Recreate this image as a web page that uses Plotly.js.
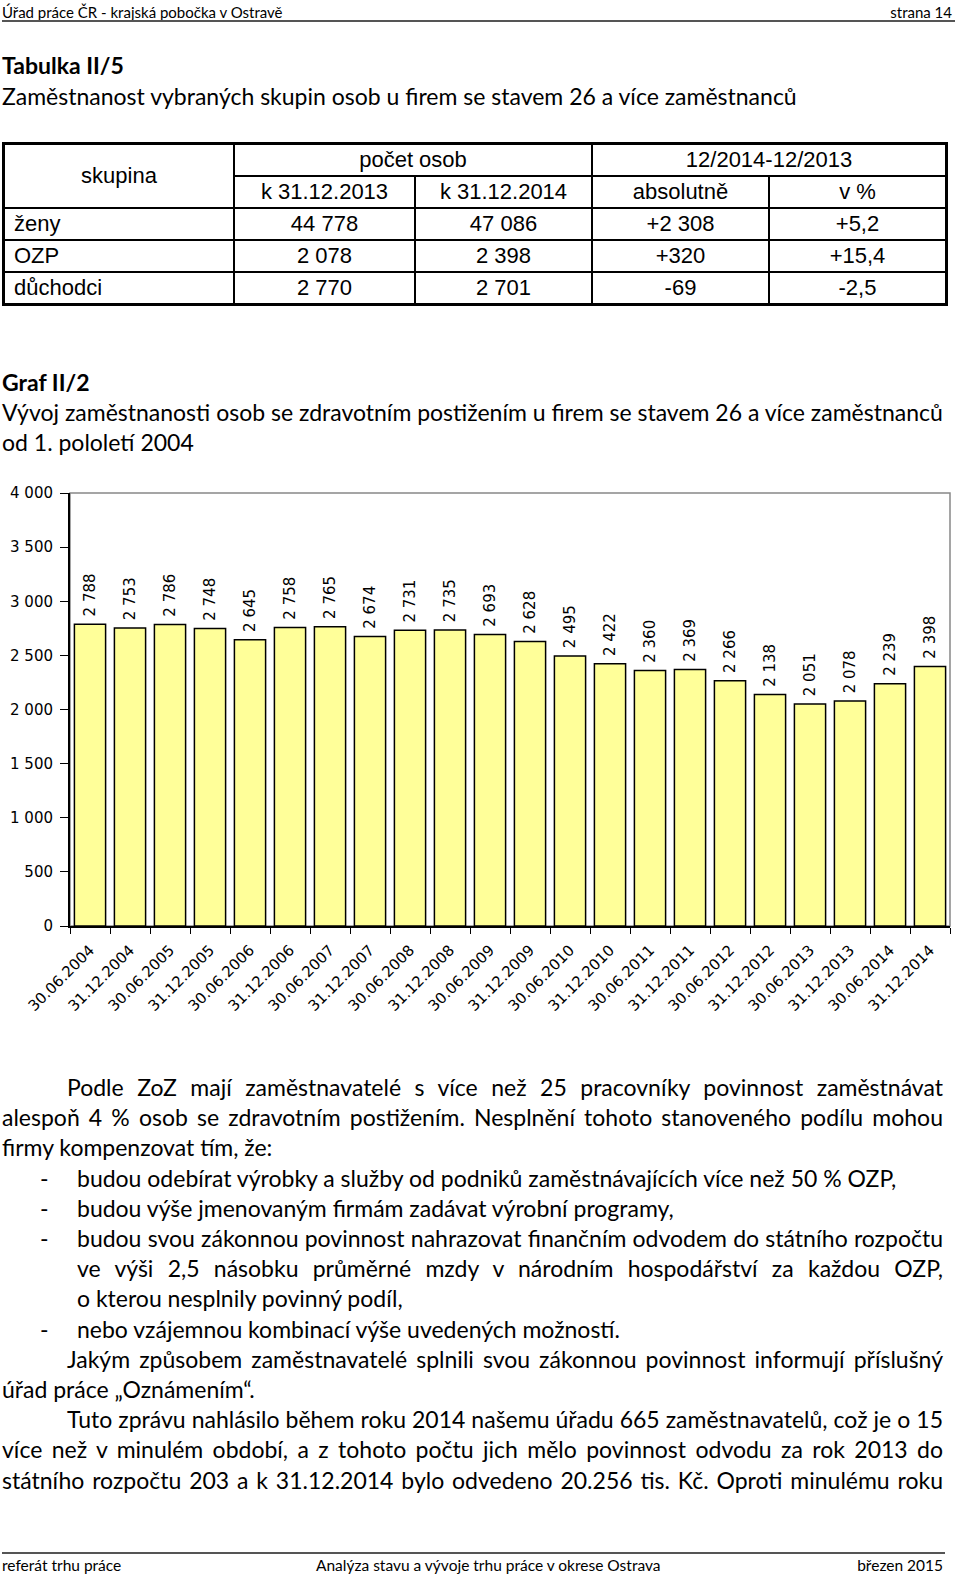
<!DOCTYPE html>
<html lang="cs">
<head>
<meta charset="utf-8">
<script src="https://cdn.plot.ly/plotly-3.0.1.min.js"></script>
<style>
  body { margin: 0; width: 960px; height: 1577px; position: relative; background: #fff;
         font-family: Lato, "Open Sans", sans-serif; color: #000; overflow: hidden; }
  .t { position: absolute; white-space: nowrap; }
  .hdr { font-size: 15px; top: 3px; }
  .rule { position: absolute; height: 0; border-top: 2px solid #555; }
  .h { font-size: 23px; left: 2px; }
  .ln { position: absolute; font-size: 23px; line-height: 30px; height: 30px; white-space: nowrap; }
  .j { text-align: justify; text-align-last: justify; }
  .dash { position: absolute; left: 40px; font-size: 23px; line-height: 30px; }
  table { position: absolute; left: 2px; top: 142px; border-collapse: collapse;
          font-family: "Liberation Sans", Arial, sans-serif; font-size: 22px; border: 3px solid #000; }
  td { border: 2px solid #000; height: 30px; padding: 0; text-align: center; }
  td.l { text-align: left; padding-left: 9px; }
  #chart { position: absolute; left: 0; top: 470px; width: 960px; height: 560px; }
  .ft { font-size: 15.5px; top: 1556px; }
</style>
</head>
<body>
<div class="t hdr" style="left:2px">Úřad práce ČR - krajská pobočka v Ostravě</div>
<div class="t hdr" style="right:8px">strana 14</div>
<div class="rule" style="left:2px;width:953px;top:20px"></div>

<div class="t h" style="top:51px;font-weight:bold">Tabulka II/5</div>
<div class="t h" style="top:82px">Zaměstnanost vybraných skupin osob u firem se stavem 26 a více zaměstnanců</div>

<table>
  <tr><td rowspan="2" style="width:228px">skupina</td><td colspan="2">počet osob</td><td colspan="2">12/2014-12/2013</td></tr>
  <tr><td style="width:179px">k 31.12.2013</td><td style="width:175px">k 31.12.2014</td><td style="width:175px">absolutně</td><td style="width:175px">v %</td></tr>
  <tr><td class="l">ženy</td><td>44 778</td><td>47 086</td><td>+2 308</td><td>+5,2</td></tr>
  <tr><td class="l">OZP</td><td>2 078</td><td>2 398</td><td>+320</td><td>+15,4</td></tr>
  <tr><td class="l">důchodci</td><td>2 770</td><td>2 701</td><td>-69</td><td>-2,5</td></tr>
</table>

<div class="t h" style="top:368px;font-weight:bold">Graf II/2</div>
<div class="t h" style="top:398px">Vývoj zaměstnanosti osob se zdravotním postižením u firem se stavem 26 a více zaměstnanců</div>
<div class="t h" style="top:428px">od 1. pololetí 2004</div>

<div id="chart"></div>

<div class="ln j" style="left:67px;width:876px;top:1072px">Podle ZoZ mají zaměstnavatelé s více než 25 pracovníky povinnost zaměstnávat</div>
<div class="ln j" style="left:2px;width:941px;top:1102px">alespoň 4 % osob se zdravotním postižením. Nesplnění tohoto stanoveného podílu mohou</div>
<div class="ln" style="left:2px;top:1132px">firmy kompenzovat tím, že:</div>
<div class="dash" style="top:1163px">-</div>
<div class="ln" style="left:77px;top:1163px">budou odebírat výrobky a služby od podniků zaměstnávajících více než 50 % OZP,</div>
<div class="dash" style="top:1193px">-</div>
<div class="ln" style="left:77px;top:1193px">budou výše jmenovaným firmám zadávat výrobní programy,</div>
<div class="dash" style="top:1223px">-</div>
<div class="ln j" style="left:77px;width:866px;top:1223px">budou svou zákonnou povinnost nahrazovat finančním odvodem do státního rozpočtu</div>
<div class="ln j" style="left:77px;width:866px;top:1253px">ve výši 2,5 násobku průměrné mzdy v národním hospodářství za každou OZP,</div>
<div class="ln" style="left:77px;top:1283px">o kterou nesplnily povinný podíl,</div>
<div class="dash" style="top:1314px">-</div>
<div class="ln" style="left:77px;top:1314px">nebo vzájemnou kombinací výše uvedených možností.</div>
<div class="ln j" style="left:67px;width:876px;top:1344px">Jakým způsobem zaměstnavatelé splnili svou zákonnou povinnost informují příslušný</div>
<div class="ln" style="left:2px;top:1374px">úřad práce „Oznámením“.</div>
<div class="ln j" style="left:67px;width:876px;top:1404px">Tuto zprávu nahlásilo během roku 2014 našemu úřadu 665 zaměstnavatelů, což je o 15</div>
<div class="ln j" style="left:2px;width:941px;top:1434px">více než v minulém období, a z tohoto počtu jich mělo povinnost odvodu za rok 2013 do</div>
<div class="ln j" style="left:2px;width:941px;top:1465px">státního rozpočtu 203 a k 31.12.2014 bylo odvedeno 20.256 tis. Kč. Oproti minulému roku</div>

<div class="rule" style="left:2px;width:943px;top:1552px"></div>
<div class="t ft" style="left:2px">referát trhu práce</div>
<div class="t ft" style="left:316px">Analýza stavu a vývoje trhu práce v okrese Ostrava</div>
<div class="t ft" style="right:17px">březen 2015</div>

<script>
var dates = ["30.06.2004", "31.12.2004", "30.06.2005", "31.12.2005", "30.06.2006", "31.12.2006",
    "30.06.2007", "31.12.2007", "30.06.2008", "31.12.2008", "30.06.2009", "31.12.2009",
    "30.06.2010", "31.12.2010", "30.06.2011", "31.12.2011", "30.06.2012", "31.12.2012",
    "30.06.2013", "31.12.2013", "30.06.2014", "31.12.2014"];
var ozp = [2788, 2753, 2786, 2748, 2645, 2758, 2765, 2674, 2731, 2735, 2693,
    2628, 2495, 2422, 2360, 2369, 2266, 2138, 2051, 2078, 2239, 2398];

var trace = [{
    x: dates,
    y: ozp,
    type: "bar",
    marker: {color: "#ffff99", line: {color: "#000", width: 1.5}},
    texttemplate: "\u00a0%{y:,d}",
    textposition: "outside",
    textangle: -90,
    constraintext: "none",
    cliponaxis: false,
    textfont: {family: "DejaVu Sans", size: 15, color: "#000"},
    hoverinfo: "none"
}];

var layout = {
    width: 960,
    height: 560,
    margin: {l: 70, r: 10, t: 23, b: 104, pad: 0},
    separators: ", ",
    bargap: 0.22,
    showlegend: false,
    paper_bgcolor: "#fff",
    plot_bgcolor: "#fff",
    font: {family: "DejaVu Sans", color: "#000"},
    xaxis: {
        type: "category",
        tickson: "boundaries",
        ticks: "outside",
        ticklen: 6,
        tickcolor: "#000",
        tickangle: -45,
        ticklabelstandoff: 8,
        showline: true,
        linecolor: "#000",
        linewidth: 1.5,
        showgrid: false,
        tickfont: {size: 15, color: "#000"}
    },
    yaxis: {
        range: [0, 4000],
        dtick: 500,
        tickformat: ",d",
        ticks: "outside",
        ticklen: 8,
        tickcolor: "#000",
        ticklabelstandoff: 4,
        showline: true,
        linecolor: "#000",
        linewidth: 2,
        showgrid: false,
        zeroline: false,
        tickfont: {size: 15, color: "#000"}
    },
    shapes: [{
        type: "rect", xref: "paper", yref: "paper", x0: 0, x1: 1, y0: 0, y1: 1,
        line: {color: "#888", width: 1.5}, layer: "below"
    }]
};

Plotly.newPlot("chart", trace, layout, {staticPlot: true});
</script>
</body>
</html>
